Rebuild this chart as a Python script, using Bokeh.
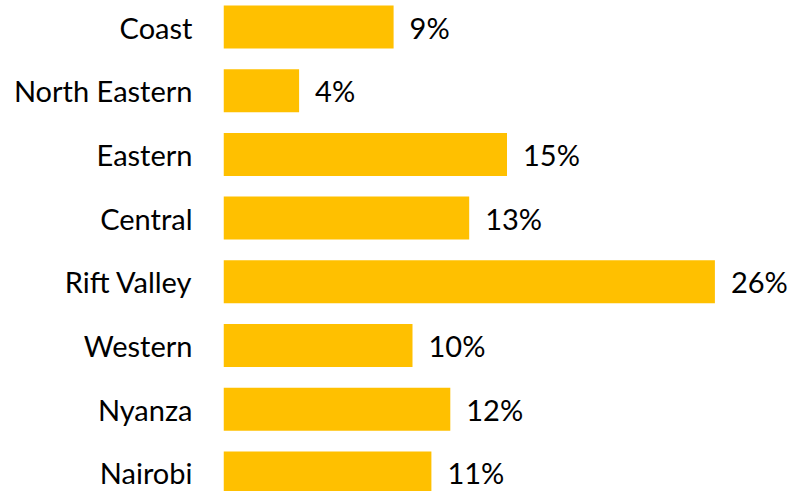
from bokeh.plotting import figure
from bokeh.models import ColumnDataSource, Range1d, FixedTicker
from bokeh.core.properties import value
from bokeh.embed import file_html
from bokeh.resources import INLINE

regions = ["Coast", "North Eastern", "Eastern", "Central", "Rift Valley", "Western", "Nyanza", "Nairobi"]
shares = [9, 4, 15, 13, 26, 10, 12, 11]
share_labels = [f"{v}%" for v in shares]

n = len(regions)
ypos = [n - 1 - i for i in range(n)]

src = ColumnDataSource(dict(y=ypos, v=shares, lab=share_labels))

FONT = "Lato"
px_per_unit = 63.7
H = 491
W = 788
LEFT = 223
top = (n - 1) + 26.5 / px_per_unit
p = figure(width=W, height=H, output_backend="svg", toolbar_location=None,
           x_range=Range1d(0, (W - LEFT) / 18.9), y_range=Range1d(top - H / px_per_unit, top),
           min_border_left=LEFT, min_border_right=0, min_border_top=0, min_border_bottom=0)
p.outline_line_color = None
p.grid.visible = False
p.xaxis.visible = False
p.background_fill_color = "white"
p.border_fill_color = "white"

p.hbar(y="y", right="v", left=0, height=0.675, source=src, color="#FFC000", line_color=None)
p.text(x="v", y="y", text="lab", source=src, x_offset=16, text_baseline="middle",
       text_font=value(FONT), text_font_size="29px", text_color="#000000")

yax = p.yaxis[0]
yax.ticker = FixedTicker(ticks=ypos)
yax.major_label_overrides = {y: r for y, r in zip(ypos, regions)}
yax.axis_line_color = None
yax.major_tick_line_color = None
yax.minor_tick_line_color = None
yax.major_tick_out = 0
yax.major_tick_in = 0
yax.major_label_standoff = 31
yax.major_label_text_font = FONT
yax.major_label_text_font_size = "29px"
yax.major_label_text_color = "#000000"

open("out.html", "w").write(file_html(p, INLINE))
